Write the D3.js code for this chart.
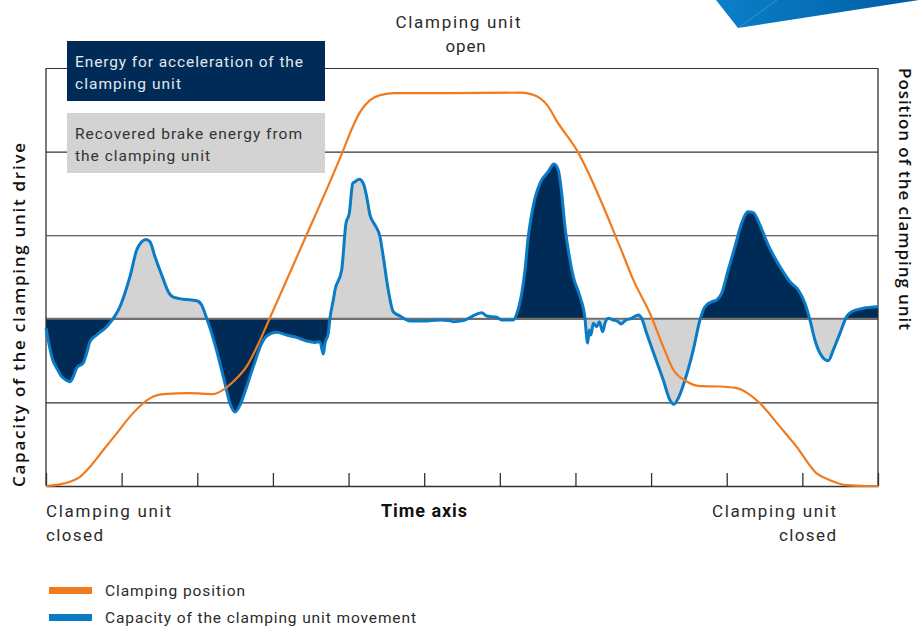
<!DOCTYPE html>
<html>
<head>
<meta charset="utf-8">
<script src="https://cdn.jsdelivr.net/npm/d3@7/dist/d3.min.js"></script>
<style>
  html, body { margin: 0; padding: 0; background: #fff; }
  svg { display: block; font-family: Roboto, "Open Sans", sans-serif; }
  .lbl { fill: #2b2b2b; font-size: 17px; letter-spacing: 1px; }
</style>
</head>
<body>
<div id="chart"></div>
<script>
// capacity of the clamping unit movement (time 0..110, capacity -100..150)
const capTime = [0, 0.89, 1.41, 2.08, 2.64, 3.17, 3.61, 4.06, 4.93, 5.38, 5.82, 6.70, 8.02, 8.90, 9.78, 10.44,
  11.10, 11.99, 12.65, 13.22, 13.75, 14.41, 15.30, 16.17, 16.83, 18.15, 19.92, 20.58, 21.24, 21.91, 22.78,
  23.66, 24.32, 24.99, 25.65, 26.53, 27.41, 28.52, 29.18, 30.50, 31.82, 33.14, 34.47, 35.56, 36.22, 36.66,
  36.88, 37.32, 37.55, 37.98, 38.21, 39.09, 39.66, 40.10, 40.55, 40.85, 41.42, 41.95, 42.40, 42.83, 43.49,
  44.16, 44.59, 45.25, 45.91, 46.80, 48.12, 49.88, 52.09, 53.41, 53.85, 55.17, 56.72, 57.60, 58.26, 59.58,
  60.24, 61.78, 62.27, 62.89, 63.33, 63.76, 64.08, 64.65, 65.31, 66.40, 67.16, 67.73, 68.18, 68.61, 69.05,
  69.71, 70.60, 71.26, 71.39, 71.61, 71.83, 72.05, 72.36, 72.80, 73.15, 73.60, 73.90, 74.34, 75.00, 75.66,
  76.02, 76.54, 77.43, 78.31, 78.75, 79.41, 80.51, 81.61, 82.49, 83.02, 83.59, 84.48, 85.57, 86.46, 87.12,
  88.01, 88.67, 89.33, 90.20, 91.09, 91.97, 92.84, 93.51, 94.39, 95.49, 97.03, 98.36, 99.46, 100.34, 101.00,
  101.66, 102.33, 103.42, 104.08, 104.97, 105.85, 106.51, 108.05, 110];
const capValue = [-5.5, -24.6, -29.4, -34.6, -36.6, -37.6, -34.6, -29.4, -26.4, -20.5, -13.7, -9.7, -4.7, 0.3, 7.2, 15.4,
  25.2, 41.1, 46.1, 47.5, 46.1, 37.1, 26.2, 16.2, 12.9, 11.7, 10.8, 8.3, 0.3, -8.7, -22.7,
  -38.6, -50.5, -55.7, -51.6, -40.6, -28.6, -14.7, -10.3, -8.1, -9.7, -11.1, -13.3, -14.1, -13.7, -21.1,
  -14.7, -8.7, 0.5, 11.2, 17.2, 29.2, 57.1, 63.1, 81.0, 82.0, 83.4, 81.0, 73.0, 62.1, 56.1,
  49.1, 37.1, 17.2, 4.2, 1.7, -1.3, -1.3, -0.7, -1.1, -1.7, -1.1, 2.3, 3.6, 1.7, 0.9,
  -0.7, -0.7, 3.5, 15.2, 29.2, 49.1, 59.1, 72.2, 81.0, 88.0, 92.6, 89.0, 75.1, 55.1, 41.1,
  25.2, 13.2, 0.3, -6.7, -14.5, -6.7, -9.7, -2.7, -4.7, -1.7, -7.7, -2.7, 0.3, -0.7, -1.7,
  -3.1, -1.1, 0.3, 2.3, 0.3, -8.7, -22.7, -36.6, -48.6, -51.1, -47.5, -36.6, -18.7, -0.7, 7.2,
  10.2, 11.2, 15.2, 29.2, 43.1, 57.1, 64.0, 63.5, 56.1, 44.1, 31.2, 22.2, 17.2, 9.3, -0.7,
  -12.7, -20.6, -25.1, -18.7, -8.7, 1.3, 4.2, 6.3, 7.2];

// clamping position (time 0..110, position 0..100)
const posTime = [0, 1.85, 3.17, 4.50, 5.82, 7.58, 9.35, 11.10, 12.86, 14.19, 15.52, 19.04, 22.12, 23.44, 24.77,
  26.53, 28.30, 30.06, 33.58, 39.32, 40.47, 41.53, 42.85, 44.16, 46.14, 53.41, 62.67, 63.99, 65.31, 66.37,
  67.43, 70.16, 75.89, 77.65, 79.87, 81.61, 82.94, 84.71, 86.46, 89.11, 91.31, 93.07, 94.39, 97.03, 99.24,
  101.89, 103.65, 105.85, 108.5, 110];
const posValue = [0, 0.4, 1.0, 2.2, 4.6, 8.6, 12.6, 16.6, 19.8, 21.4, 22.0, 22.2, 22.0, 23.0, 25.0,
  28.6, 34.9, 42.1, 56.5, 80.4, 85.6, 89.5, 92.3, 93.5, 94.0, 94.0, 94.1, 93.8, 92.8, 90.9,
  87.6, 80.4, 57.2, 49.3, 41.2, 33.3, 27.8, 25.0, 23.9, 23.8, 23.4, 21.8, 19.8, 14.2, 9.4,
  3.0, 1.4, 0.2, 0, 0];

// energy phases: acceleration (navy) or recovered brake energy (grey)
const phaseFrom = [0, 8.9, 21.24, 37.55, 61.78, 71.26, 86.46, 101.0, 105.85];
const phaseTo   = [8.9, 21.24, 37.55, 46.8, 71.26, 86.46, 101.0, 105.85, 110];
const phaseKind = ['accel', 'brake', 'accel', 'brake', 'accel', 'brake', 'accel', 'brake', 'accel'];

const timeTicks = [0, 10, 20, 30, 40, 50, 60, 70, 80, 90, 100, 110];
const capGrid = [-100, -50, 0, 50, 100, 150];

const COLORS = { accel: '#002b56', brake: '#d3d3d3', cap: '#0a7cc6', pos: '#f07b1f' };

const W = 919, H = 627;
const M = { left: 46, right: 41, top: 68, bottom: 141 };

const svg = d3.select('#chart').append('svg')
  .attr('width', W).attr('height', H).attr('viewBox', `0 0 ${W} ${H}`);

const x = d3.scaleLinear().domain([0, 110]).range([M.left, W - M.right]);
const y = d3.scaleLinear().domain([-100, 150]).range([H - M.bottom, M.top]);
const yPos = d3.scaleLinear().domain([0, 100]).range([H - M.bottom, M.top]);

const capData = capTime.map((t, i) => ({ t, v: capValue[i] }));
const posData = posTime.map((t, i) => ({ t, v: posValue[i] }));

// decoration top right
const defs = svg.append('defs');
const grad = defs.append('linearGradient').attr('id', 'deco').attr('x1', '0').attr('x2', '1');
grad.append('stop').attr('offset', '0').attr('stop-color', '#0a80c8');
grad.append('stop').attr('offset', '1').attr('stop-color', '#005ca4');
svg.append('path').attr('d', 'M716,0 L738,28 L919,0 Z').attr('fill', 'url(#deco)');
svg.append('path').attr('d', 'M738,28 L777,0').attr('stroke', '#5aa8dc').attr('stroke-width', 0.6);

// grid
svg.append('g')
  .attr('transform', `translate(${M.left},0)`)
  .call(d3.axisLeft(y).tickValues(capGrid).tickSize(-(x.range()[1] - x.range()[0])).tickFormat(''))
  .call((g) => g.select('.domain').remove())
  .call((g) => g.selectAll('line').attr('stroke', '#333').attr('stroke-width', 1.1));

// phase fills
const area = d3.area()
  .x((d) => x(d.t))
  .y0(y(0))
  .y1((d) => y(d.v))
  .curve(d3.curveMonotoneX);

phaseFrom.forEach((from, i) => {
  const id = `phase-${i}`;
  defs.append('clipPath').attr('id', id)
    .append('rect')
    .attr('x', x(from)).attr('width', x(phaseTo[i]) - x(from))
    .attr('y', 0).attr('height', H);
  svg.append('path')
    .datum(capData)
    .attr('d', area)
    .attr('fill', COLORS[phaseKind[i]])
    .attr('clip-path', `url(#${id})`);
});

// zero line
svg.append('line')
  .attr('x1', x(0)).attr('x2', x(110))
  .attr('y1', y(0)).attr('y2', y(0))
  .attr('stroke', '#707070').attr('stroke-width', 2);

// frame: left, right, bottom with ticks
svg.append('g')
  .attr('transform', `translate(0,${y(-100)})`)
  .call(d3.axisBottom(x).tickValues(timeTicks).tickSizeInner(-13).tickSizeOuter(0).tickFormat(''))
  .call((g) => g.select('.domain').attr('stroke', '#333').attr('stroke-width', 1.5))
  .call((g) => g.selectAll('line').attr('stroke', '#333').attr('stroke-width', 1.3));

[x(0), x(110)].forEach((px) => {
  svg.append('line')
    .attr('x1', px).attr('x2', px)
    .attr('y1', y(150)).attr('y2', y(-100))
    .attr('stroke', '#333').attr('stroke-width', 1.3);
});

// lines
svg.append('path')
  .datum(capData)
  .attr('d', d3.line().x((d) => x(d.t)).y((d) => y(d.v)).curve(d3.curveMonotoneX))
  .attr('fill', 'none')
  .attr('stroke', COLORS.cap)
  .attr('stroke-width', 3)
  .attr('stroke-linejoin', 'round');

svg.append('path')
  .datum(posData)
  .attr('d', d3.line().x((d) => x(d.t)).y((d) => yPos(d.v)).curve(d3.curveMonotoneX))
  .attr('fill', 'none')
  .attr('stroke', COLORS.pos)
  .attr('stroke-width', 2.2);

// text helper: width fitted to the reference lettering
function label(txt, lx, ly, anchor, len, extra) {
  const t = svg.append('text').attr('class', 'lbl')
    .attr('x', lx).attr('y', ly).attr('text-anchor', anchor).text(txt);
  if (len) t.attr('textLength', len).attr('lengthAdjust', 'spacing').style('letter-spacing', '0px');
  if (extra) extra(t);
  return t;
}

// phase legend boxes
const boxes = [
  { y: 41, fill: COLORS.accel, color: '#e2e8f0', lines: ['Energy for acceleration of the', 'clamping unit'], lens: [228, 106] },
  { y: 113, fill: COLORS.brake, color: '#333', lines: ['Recovered brake energy from', 'the clamping unit'], lens: [227, 135] }
];
boxes.forEach((b) => {
  svg.append('rect').attr('x', 67).attr('y', b.y).attr('width', 258).attr('height', 60).attr('fill', b.fill);
  b.lines.forEach((line, i) => {
    label(line, 75, b.y + 26 + i * 22, 'start', b.lens[i], (t) =>
      t.style('fill', b.color).style('font-size', '15.5px'));
  });
});

// labels
label('Clamping unit', 458, 28, 'middle', 125);
label('open', 466, 52, 'middle', null, (t) => t.style('letter-spacing', '0.8px'));
label('Clamping unit', 46, 517, 'start', 125);
label('closed', 46, 541, 'start', 57);
label('Clamping unit', 836, 517, 'end', 124);
label('closed', 836, 541, 'end', 57);
label('Time axis', 424, 517, 'middle', 86, (t) =>
  t.style('font-weight', 'bold').style('fill', '#111').style('font-size', '18px'));

label('Capacity of the clamping unit drive', 0, 0, 'middle', 344, (t) =>
  t.attr('transform', 'translate(25,315) rotate(-90)').style('fill', '#111')
    .style('font-family', '"Open Sans", Roboto, sans-serif')
    .style('font-size', '17px').style('font-weight', 600));
label('Position of the clamping unit', 0, 0, 'middle', 262, (t) =>
  t.attr('transform', 'translate(899,199) rotate(90)').style('fill', '#111')
    .style('font-family', '"Open Sans", Roboto, sans-serif')
    .style('font-size', '17px').style('font-weight', 600));

// series legend
const legend = [
  { label: 'Clamping position', color: COLORS.pos, y: 590, len: 140 },
  { label: 'Capacity of the clamping unit movement', color: COLORS.cap, y: 617, len: 311 }
];
legend.forEach((l) => {
  svg.append('rect').attr('x', 49).attr('y', l.y - 3).attr('width', 43).attr('height', 7).attr('fill', l.color);
  label(l.label, 105, l.y + 6, 'start', l.len, (t) => t.style('font-size', '15.5px'));
});
</script>
</body>
</html>
